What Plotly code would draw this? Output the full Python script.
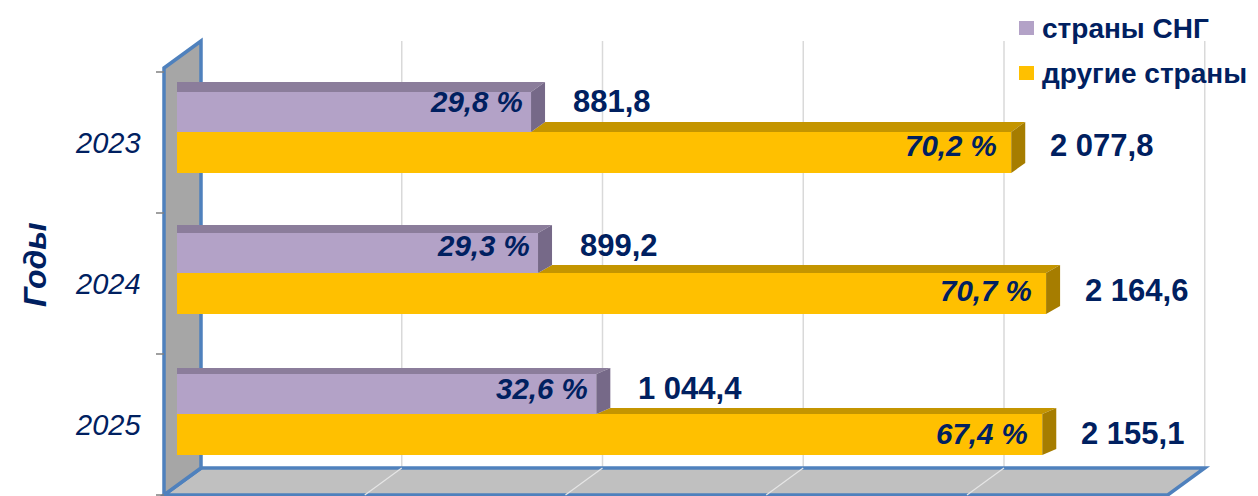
import plotly.graph_objects as go

# ---------------- data ----------------
years = ["2023", "2024", "2025"]
series_names = ["страны СНГ", "другие страны"]
cis_values = [881.8, 899.2, 1044.4]
other_values = [2077.8, 2164.6, 2155.1]
cis_share = ["29,8 %", "29,3 %", "32,6 %"]
other_share = ["70,2 %", "70,7 %", "67,4 %"]
cis_labels = ["881,8", "899,2", "1 044,4"]
other_labels = ["2 077,8", "2 164,6", "2 155,1"]
value_ticks = [0, 500, 1000, 1500, 2000, 2500]
axis_title = "Годы"

# ---------------- geometry / style ----------------
PAGE_MARGIN = 8               # default body margin of the html page
W, H = 1258 - PAGE_MARGIN, 496 - PAGE_MARGIN
PX_PER_UNIT = 0.4015          # horizontal scale (px per value unit)
X0_PX = 177 - PAGE_MARGIN     # pixel of value 0 on the bar front plane
CAT_PX = 141                  # pixel distance between categories
CAT0_PX = 142.5 - PAGE_MARGIN # pixel of first category centre (front plane)

NAVY = "#002060"
BLUE_EDGE = "#4F81BD"
FONT = "Liberation Sans, Arial, sans-serif"

C_PURPLE = "#B3A2C7"
C_PURPLE_TOP = "#8B7D9B"
C_PURPLE_SIDE = "#766988"
C_GOLD = "#FFC000"
C_GOLD_TOP = "#C49500"
C_GOLD_SIDE = "#A67D00"


def px_x(p):  # reference pixel x -> figure pixel x
    return p - PAGE_MARGIN


def px_y(p):
    return p - PAGE_MARGIN


def dx(px):  # pixel delta -> x data delta
    return px / PX_PER_UNIT


def dy(px):  # pixel delta -> y data delta (y axis reversed, down = +)
    return px / CAT_PX


ypos = list(range(len(years)))

# frame (3D box) in data units
WALL_X = dx(-13)                # box front plane value 0 lies 13 px left of bar front plane
DEPTH_DX = dx(37)
DEPTH_DY = dy(-27)
TOP_Y = -0.5 + dy(-4)
BOT_Y = len(years) - 0.5

# bars
BAR_DX = dx(14)
BAR_DY = [dy(-10), dy(-8), dy(-6)]   # perspective: less top face lower down
P_OFF, P_W = dy(-50.5), dy(40)
G_OFF, G_W = dy(-10.5), dy(41)

x_range = [dx(0 - X0_PX), dx(W - X0_PX)]
y_range = [dy(H - CAT0_PX), dy(0 - CAT0_PX)]

fig = go.Figure()

# ---------------- 3D frame shapes ----------------
shapes = []
# back-wall gridlines
for v in value_ticks[1:]:
    xb = WALL_X + v + DEPTH_DX
    shapes.append(dict(type="line", xref="x", yref="y", layer="below",
                       x0=xb, x1=xb, y0=TOP_Y + DEPTH_DY, y1=BOT_Y + DEPTH_DY,
                       line=dict(color="#D9D9D9", width=1.5)))
# floor
x_end = WALL_X + value_ticks[-1]
floor_path = (f"M {WALL_X},{BOT_Y} L {x_end},{BOT_Y} "
              f"L {x_end + DEPTH_DX},{BOT_Y + DEPTH_DY} "
              f"L {WALL_X + DEPTH_DX},{BOT_Y + DEPTH_DY} Z")
shapes.append(dict(type="path", xref="x", yref="y", layer="below", path=floor_path,
                   fillcolor="#C0C0C0", line=dict(color=BLUE_EDGE, width=3.5)))
for v in value_ticks[1:-1]:
    shapes.append(dict(type="line", xref="x", yref="y", layer="below",
                       x0=WALL_X + v, x1=WALL_X + v + DEPTH_DX,
                       y0=BOT_Y, y1=BOT_Y + DEPTH_DY,
                       line=dict(color="#E6E6E6", width=1.2)))
# left wall
wall_path = (f"M {WALL_X},{TOP_Y} L {WALL_X + DEPTH_DX},{TOP_Y + DEPTH_DY} "
             f"L {WALL_X + DEPTH_DX},{BOT_Y + DEPTH_DY} L {WALL_X},{BOT_Y} Z")
shapes.append(dict(type="path", xref="x", yref="y", layer="below", path=wall_path,
                   fillcolor="#A6A6A6", line=dict(color=BLUE_EDGE, width=3.5)))
# category boundary ticks
for i in range(len(years) + 1):
    yb = i - 0.5
    shapes.append(dict(type="line", xref="x", yref="y", layer="below",
                       x0=WALL_X - dx(8), x1=WALL_X, y0=yb, y1=yb,
                       line=dict(color="#808080", width=1.5)))

# ---------------- bars (front faces) ----------------
fig.add_trace(go.Bar(y=ypos, x=cis_values, orientation="h", width=P_W, offset=P_OFF,
                     marker=dict(color=C_PURPLE, line=dict(width=0)),
                     name=series_names[0], showlegend=False, hoverinfo="skip"))
fig.add_trace(go.Bar(y=ypos, x=other_values, orientation="h", width=G_W, offset=G_OFF,
                     marker=dict(color=C_GOLD, line=dict(width=0)),
                     name=series_names[1], showlegend=False, hoverinfo="skip"))


def poly_trace(xs, ys, color):
    return go.Scatter(x=xs, y=ys, mode="lines", fill="toself", fillcolor=color,
                      line=dict(width=0, color=color), hoverinfo="skip", showlegend=False)


# top faces / side faces
pt_x, pt_y, ps_x, ps_y, gt_x, gt_y, gs_x, gs_y = ([] for _ in range(8))
for i, (vp, vg) in enumerate(zip(cis_values, other_values)):
    bdy = BAR_DY[i]
    pt, pb = i + P_OFF, i + P_OFF + P_W
    gt, gb = i + G_OFF, i + G_OFF + G_W
    pt_x += [0, vp, vp + BAR_DX, 0, 0, None]
    pt_y += [pt, pt, pt + bdy, pt + bdy, pt, None]
    ps_x += [vp, vp + BAR_DX, vp + BAR_DX, vp, vp, None]
    ps_y += [pt, pt + bdy, pb + bdy, pb, pt, None]
    gt_x += [vp, vg, vg + BAR_DX, vp + BAR_DX, vp, None]
    gt_y += [gt, gt, gt + bdy, gt + bdy, gt, None]
    gs_x += [vg, vg + BAR_DX, vg + BAR_DX, vg, vg, None]
    gs_y += [gt, gt + bdy, gb + bdy, gb, gt, None]

fig.add_trace(poly_trace(gt_x, gt_y, C_GOLD_TOP))
fig.add_trace(poly_trace(pt_x, pt_y, C_PURPLE_TOP))
fig.add_trace(poly_trace(ps_x, ps_y, C_PURPLE_SIDE))
fig.add_trace(poly_trace(gs_x, gs_y, C_GOLD_SIDE))

# ---------------- labels ----------------
ann = []
P_LBL_SHIFT = [-11, -8, -6]
G_LBL_SHIFT = [-7, -3, -1]
PCT_FONT = dict(family=FONT, size=29.5, color=NAVY, weight="bold", style="italic")
VAL_FONT = dict(family=FONT, size=31, color=NAVY, weight="bold")
for i in ypos:
    yp = i + P_OFF + P_W / 2 + dy(P_LBL_SHIFT[i])
    yg = i + G_OFF + G_W / 2 + dy(G_LBL_SHIFT[i])
    ann.append(dict(x=cis_values[i], y=yp, text=cis_share[i], xanchor="right", yanchor="middle",
                    xshift=-6, showarrow=False, font=PCT_FONT))
    ann.append(dict(x=other_values[i], y=yg, text=other_share[i], xanchor="right", yanchor="middle",
                    xshift=-12, showarrow=False, font=PCT_FONT))
    ann.append(dict(x=cis_values[i], y=yp, text=cis_labels[i], xanchor="left", yanchor="middle",
                    xshift=40, showarrow=False, font=VAL_FONT))
    ann.append(dict(x=other_values[i], y=yg, text=other_labels[i], xanchor="left", yanchor="middle",
                    xshift=37, showarrow=False, font=VAL_FONT))
    ann.append(dict(x=WALL_X, y=i, text=years[i], xanchor="right", yanchor="middle",
                    xshift=-21, showarrow=False,
                    font=dict(family=FONT, size=29, color=NAVY, style="italic")))

ann.append(dict(xref="paper", yref="paper", x=px_x(35) / W, y=1 - px_y(265) / H, text=axis_title,
                textangle=-90, showarrow=False, xanchor="center", yanchor="middle",
                font=dict(family=FONT, size=32, color=NAVY, weight="bold", style="italic")))

# legend (manual)
leg_colors = [C_PURPLE, C_GOLD]
for k, (nm, col) in enumerate(zip(series_names, leg_colors)):
    cy = px_y(28 + 45 * k)
    shapes.append(dict(type="rect", xref="paper", yref="paper",
                       x0=px_x(1019) / W, x1=px_x(1034) / W,
                       y0=1 - (cy + 7) / H, y1=1 - (cy - 7) / H,
                       fillcolor=col, line=dict(width=0)))
    ann.append(dict(xref="paper", yref="paper", x=px_x(1040) / W, y=1 - cy / H, text=nm,
                    xanchor="left", yanchor="middle", showarrow=False,
                    font=dict(family=FONT, size=28, color=NAVY, weight="bold")))

fig.update_layout(
    width=W, height=H, margin=dict(l=0, r=0, t=0, b=0),
    paper_bgcolor="white", plot_bgcolor="white",
    barmode="overlay", showlegend=False,
    xaxis=dict(range=x_range, visible=False, fixedrange=True),
    yaxis=dict(range=y_range, visible=False, fixedrange=True),
    shapes=shapes, annotations=ann,
)

fig.write_html("out.html")
